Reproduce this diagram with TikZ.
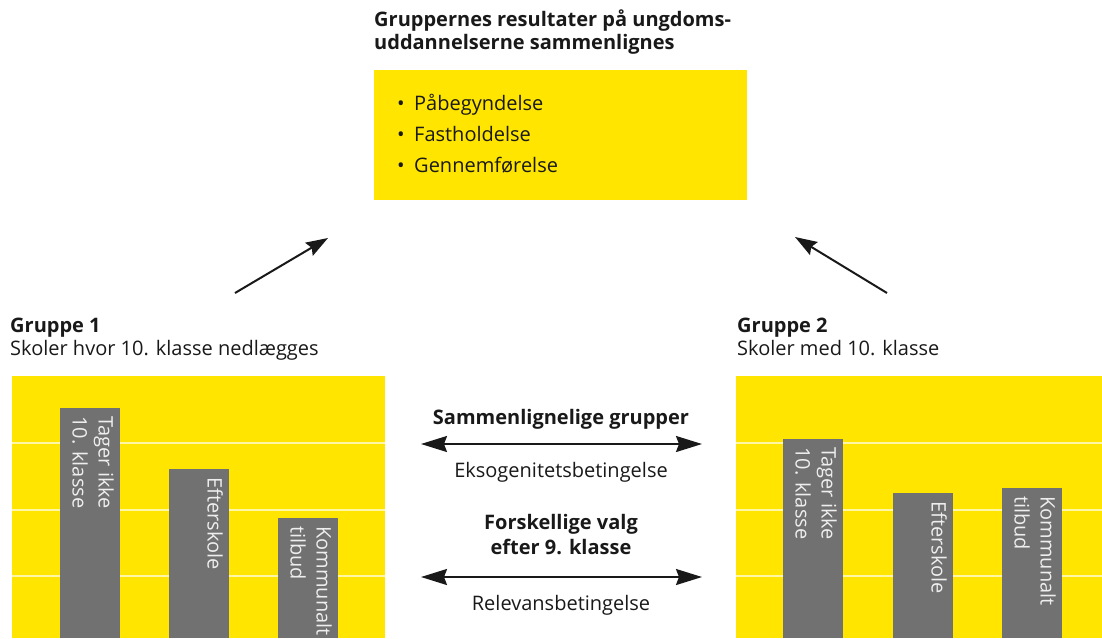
\documentclass[tikz,border=0pt]{standalone}
\usepackage{fontspec}
\setmainfont{Open Sans}
\usetikzlibrary{positioning,arrows.meta}
\definecolor{gul}{RGB}{255,229,0}
\definecolor{graa}{RGB}{113,113,113}
\definecolor{sort}{RGB}{25,25,25}
\newcommand{\pkt}{\makebox[17pt][l]{\textbullet}}

\begin{document}
\begin{tikzpicture}[x=1pt,y=-1pt,
  fnt/.style={font=\fontsize{20}{23}\selectfont, text=sort, inner sep=0pt},
  fed/.style={fnt, font=\fontsize{20}{23}\selectfont\bfseries},
  panel/.style={fill=gul},
  gitter/.style={draw=white!65!gul, line width=1.5pt},
  bar/.style={fill=graa},
  bartekst/.style={rotate=-90, anchor=north west, align=left, inner sep=0pt,
    text=white!88!graa, font=\fontsize{20}{26}\selectfont},
  dobbelpil/.style={{Stealth[length=26pt,width=16pt,inset=3pt]}-{Stealth[length=26pt,width=16pt,inset=3pt]}, line width=2pt, sort},
  pil/.style={-{Stealth[length=22pt,width=15pt,inset=3pt]}, line width=2pt, sort}]

  \useasboundingbox (0,0) rectangle (1102,638);

  % maal for sammenligningen
  \node[fed, anchor=base west, align=left] (titel) at (374,49)
    {Gruppernes resultater på ungdoms-\\uddannelserne sammenlignes};
  \node[panel, anchor=north west, minimum width=373pt, minimum height=130pt, inner sep=0pt] (maal) at (374,70) {};
  \node[fnt, anchor=base west, align=left, font=\fontsize{20}{31}\selectfont] (liste) at (397,172)
    {\pkt Påbegyndelse\\\pkt Fastholdelse\\\pkt Gennemførelse};

  % pile op mod maalet
  \coordinate (p1a) at (235,293);
  \coordinate (p1b) at (328,238);
  \coordinate (p2a) at (887,293);
  \coordinate (p2b) at (795,237);
  \draw[pil] (p1a) -- (p1b);
  \draw[pil] (p2a) -- (p2b);

  % gruppe 1
  \node[fed, anchor=base west] (g1) at (10,332) {Gruppe 1};
  \node[fnt, anchor=base west] (g1b) at (10,355) {Skoler hvor 10. klasse nedlægges};
  \fill[panel] (12,376) rectangle (385,638);
  \foreach \y in {443,510,576}
    \draw[gitter] (12,\y) -- (385,\y);
  \fill[bar] (60,408) rectangle (120,638);
  \fill[bar] (169,469) rectangle (229,638);
  \fill[bar] (278,518) rectangle (338,638);
  \node[bartekst] (b11) at (114,416) {Tager ikke\\10. klasse};
  \node[bartekst] (b12) at (223,477) {Efterskole};
  \node[bartekst] (b13) at (332,526) {Kommunalt\\tilbud};

  % gruppe 2
  \node[fed, anchor=base west] (g2) at (737,332) {Gruppe 2};
  \node[fnt, anchor=base west] (g2b) at (737,355) {Skoler med 10. klasse};
  \fill[panel] (736,376) rectangle (1102,638);
  \foreach \y in {443,510,576}
    \draw[gitter] (736,\y) -- (1102,\y);
  \fill[bar] (783,439) rectangle (843,638);
  \fill[bar] (893,493) rectangle (953,638);
  \fill[bar] (1002,488) rectangle (1062,638);
  \node[bartekst] (b21) at (837,447) {Tager ikke\\10. klasse};
  \node[bartekst] (b22) at (947,501) {Efterskole};
  \node[bartekst] (b23) at (1056,496) {Kommunalt\\tilbud};

  % betingelser i midten
  \node[fed, anchor=base] (samm) at (561,424) {Sammenlignelige grupper};
  \coordinate (m1v) at (421,444);
  \coordinate (m1h) at (702,444);
  \draw[dobbelpil] (m1v) -- (m1h);
  \node[fnt, anchor=base] (eks) at (561,477) {Eksogenitetsbetingelse};
  \node[fed, anchor=base, align=center, font=\fontsize{20}{25}\selectfont\bfseries] (valg) at (561,554)
    {Forskellige valg\\efter 9. klasse};
  \coordinate (m2v) at (421,577);
  \coordinate (m2h) at (702,577);
  \draw[dobbelpil] (m2v) -- (m2h);
  \node[fnt, anchor=base] (rel) at (561,610) {Relevansbetingelse};
\end{tikzpicture}
\end{document}
